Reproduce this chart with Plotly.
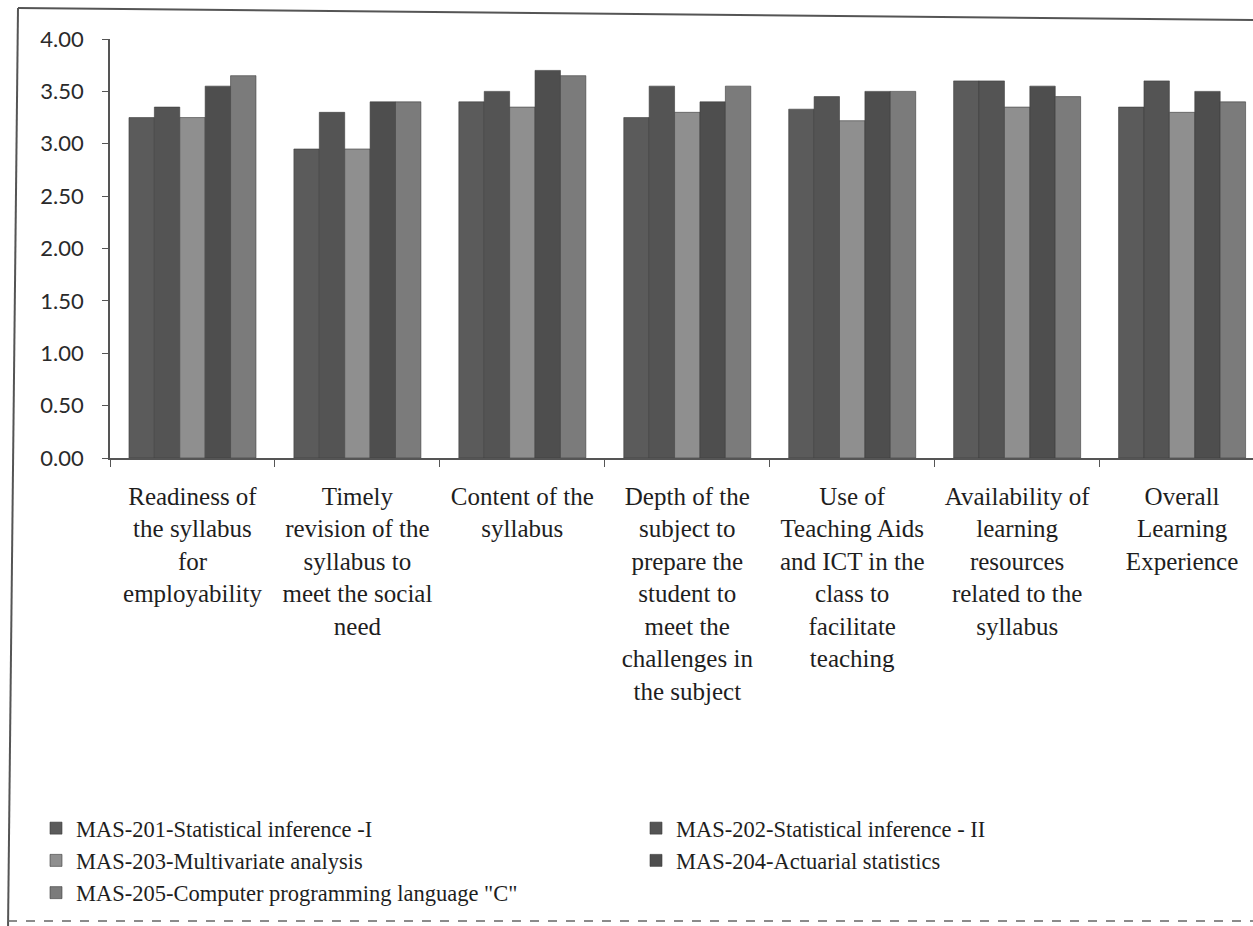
import plotly.graph_objects as go

categories = [
    "Readiness of<br>the syllabus<br>for<br>employability",
    "Timely<br>revision of the<br>syllabus to<br>meet the social<br>need",
    "Content of the<br>syllabus",
    "Depth of the<br>subject to<br>prepare the<br>student to<br>meet the<br>challenges in<br>the subject",
    "Use of<br>Teaching Aids<br>and ICT in the<br>class to<br>facilitate<br>teaching",
    "Availability of<br>learning<br>resources<br>related to the<br>syllabus",
    "Overall<br>Learning<br>Experience",
]

series_names = [
    "MAS-201-Statistical inference -I",
    "MAS-202-Statistical inference - II",
    "MAS-203-Multivariate analysis",
    "MAS-204-Actuarial statistics",
    'MAS-205-Computer programming language "C"',
]

mas201 = [3.25, 2.95, 3.40, 3.25, 3.33, 3.60, 3.35]
mas202 = [3.35, 3.30, 3.50, 3.55, 3.45, 3.60, 3.60]
mas203 = [3.25, 2.95, 3.35, 3.30, 3.22, 3.35, 3.30]
mas204 = [3.55, 3.40, 3.70, 3.40, 3.50, 3.55, 3.50]
mas205 = [3.65, 3.40, 3.65, 3.55, 3.50, 3.45, 3.40]

y_ticks = [0, 0.5, 1.0, 1.5, 2.0, 2.5, 3.0, 3.5, 4.0]

colors = ["#5b5b5b", "#545454", "#8f8f8f", "#4e4e4e", "#7b7b7b"]
legend_ids = ["legend", "legend2", "legend", "legend2", "legend"]
values = [mas201, mas202, mas203, mas204, mas205]

fig = go.Figure()
for name, vals, col, lg in zip(series_names, values, colors, legend_ids):
    fig.add_trace(go.Bar(
        x=categories, y=vals, name=name, legend=lg,
        marker=dict(color=col, line=dict(color="#3c3c3c", width=0.6)),
    ))

W, H = 1253, 926
L, T, B, R = 110, 39, 468, 0
pw = W - L - R
ph = H - T - B

def px_x(x):
    return (x - L) / pw

def px_y(y):
    return (H - B - y) / ph

legend_font = dict(family="Liberation Serif", size=22.5, color="#1e1e1e")

fig.update_layout(
    width=W, height=H,
    margin=dict(l=L, r=R, t=T, b=B, autoexpand=False),
    paper_bgcolor="white", plot_bgcolor="white",
    barmode="group", bargap=0.23, bargroupgap=0,
    font=dict(family="Liberation Serif", color="#1e1e1e"),
    showlegend=True,
    legend=dict(
        orientation="v",
        x=px_x(36), y=px_y(807), xanchor="left", yanchor="top",
        font=legend_font, itemwidth=30, tracegroupgap=0,
        traceorder="normal", bgcolor="rgba(0,0,0,0)",
    ),
    legend2=dict(
        orientation="v",
        x=px_x(636), y=px_y(807), xanchor="left", yanchor="top",
        font=legend_font, itemwidth=30, tracegroupgap=0,
        traceorder="normal", bgcolor="rgba(0,0,0,0)",
    ),
    xaxis=dict(
        range=[-0.5, 6.43],
        showline=True, linecolor="#555555", linewidth=1.5,
        ticks="outside", tickson="boundaries", ticklen=7, tickcolor="#555555",
        tickfont=dict(family="Liberation Serif", size=25, color="#1e1e1e"),
        ticklabelstandoff=15,
        tickangle=0,
        showgrid=False, zeroline=False,
    ),
    yaxis=dict(
        range=[0, 4], tickvals=y_ticks, tickformat=".2f",
        showline=True, linecolor="#555555", linewidth=1.5,
        ticks="outside", ticklen=6, tickcolor="#555555",
        tickfont=dict(family="Lato", size=22, color="#2a2a2a"),
        ticklabelstandoff=14,
        showgrid=False, zeroline=False,
    ),
    shapes=[
        dict(type="line", xref="paper", yref="paper",
             x0=px_x(18), x1=px_x(1260), y0=px_y(8), y1=px_y(20),
             line=dict(color="#555555", width=2)),
        dict(type="line", xref="paper", yref="paper",
             x0=px_x(18), x1=px_x(8), y0=px_y(8), y1=px_y(930),
             line=dict(color="#555555", width=2)),
        dict(type="line", xref="paper", yref="paper",
             x0=px_x(8), x1=px_x(1260), y0=px_y(921), y1=px_y(921),
             line=dict(color="#666666", width=1.5, dash="dash")),
    ],
)

fig.write_html(
    "out.html",
    config={"displayModeBar": False},
    post_script="document.body.style.margin='0';document.body.style.overflow='hidden';",
)
